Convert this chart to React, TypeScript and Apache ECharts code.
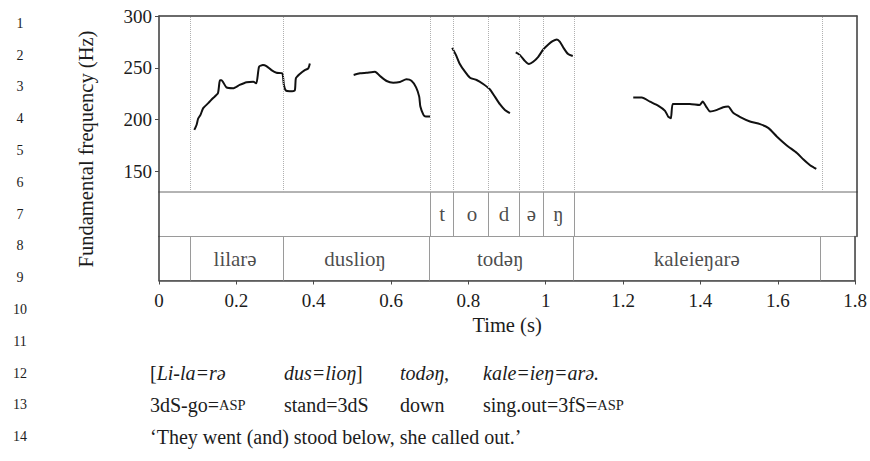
import React, { useEffect, useRef } from 'react';
import * as echarts from 'echarts';

const FONT = 'Liberation Serif, Times New Roman, DejaVu Serif, serif';
const INK = '#1c1c1c';

// Pitch contour segments: [time (s), F0 (Hz)]
const segLilara: [number, number][] = [
  [0.091, 190], [0.097, 195], [0.101, 201], [0.107, 204.5], [0.114, 211], [0.127, 215.8],
  [0.139, 220.6], [0.152, 225.4], [0.157, 238], [0.161, 238], [0.174, 231], [0.191, 230.2],
  [0.208, 233.4], [0.226, 236], [0.243, 236.5], [0.251, 235], [0.258, 251], [0.268, 252.6],
  [0.277, 251.6], [0.29, 247.8], [0.303, 245.2], [0.318, 244.6], [0.322, 233.4], [0.327, 228],
  [0.337, 227.3], [0.35, 228], [0.353, 239.8], [0.363, 244], [0.376, 247.8], [0.385, 249.4], [0.389, 254.2],
];
const segDuslion: [number, number][] = [
  [0.502, 243], [0.518, 244.6], [0.535, 245.2], [0.557, 246.2], [0.57, 242], [0.587, 237.2],
  [0.604, 235.6], [0.621, 236.3], [0.638, 238.8], [0.651, 237.5], [0.663, 231.1], [0.671, 222.1],
  [0.674, 212.5], [0.682, 204.5], [0.688, 202.9], [0.699, 202.9],
];
const segTodan1: [number, number][] = [
  [0.756, 269.2], [0.766, 262.2], [0.775, 254.2], [0.789, 246.2], [0.802, 240.4], [0.819, 238.2],
  [0.836, 234.3], [0.853, 229.2], [0.866, 222.1], [0.879, 214.8], [0.892, 209.3], [0.905, 206.2],
];
const segTodan2: [number, number][] = [
  [0.92, 264.8], [0.931, 262.2], [0.944, 256.4], [0.954, 253.6], [0.965, 255.8], [0.978, 260.6],
  [0.991, 267.7], [1.004, 272.5], [1.015, 275.7], [1.026, 277.3], [1.034, 275], [1.044, 268.7],
  [1.055, 263.2], [1.067, 261.3],
];
const segKaleienara: [number, number][] = [
  [1.223, 221.2], [1.245, 221.2], [1.266, 217.3], [1.288, 213.2], [1.305, 208.4], [1.313, 202.9],
  [1.32, 201.3], [1.325, 215.1], [1.344, 215.1], [1.369, 215.1], [1.394, 214.1], [1.402, 217.3],
  [1.411, 212.5], [1.421, 207.7], [1.439, 209.3], [1.455, 211.9], [1.468, 212.5], [1.48, 206.7],
  [1.499, 202.3], [1.524, 198.1], [1.55, 195.6], [1.572, 191.7], [1.593, 183.7], [1.619, 175],
  [1.645, 167.7], [1.662, 161.3], [1.679, 155.8], [1.688, 153.8], [1.695, 152.3],
];
const pitchSegments = [segLilara, segDuslion, segTodan1, segTodan2, segKaleienara];

// Annotation tiers
const phoneLabels = ['t', 'o', 'd', 'ə', 'ŋ'];
const phoneBounds = [0.697, 0.764, 0.85, 0.929, 0.992, 1.068];
const wordLabels = ['lilarə', 'duslioŋ', 'todəŋ', 'kaleieŋarə'];
const wordBounds = [0.0766, 0.317, 0.697, 1.068, 1.713];

// Axis ticks
const yTickValues = [150, 200, 250, 300];

// Gloss lines
const glossLine1 = ['[{i|Li-la=rə}', '{i|dus=lioŋ}]', '{i|todəŋ,}', '{i|kale=ieŋ=arə.}'];
const glossLine2 = ['3dS-go={sc|ASP}', 'stand=3dS', 'down', 'sing.out=3fS={sc|ASP}'];
const glossLine3 = '‘They went (and) stood below, she called out.’';
const lineNumbers = [1, 2, 3, 4, 5, 6, 7, 8, 9, 10, 11, 12, 13, 14];

const glossCols = [150, 284, 400, 483];

function tierItems(labels: string[], bounds: number[]) {
  return labels.map((name, i) => ({ name, value: [(bounds[i] + bounds[i + 1]) / 2, 0.5] }));
}

export default function App() {
  const ref = useRef<HTMLDivElement>(null);
  useEffect(() => {
    if (!ref.current) return;
    const chart = echarts.init(ref.current, undefined, { renderer: 'svg' });
    const dark = '#4a4a4a';
    const tierGray = '#9a9a9a';
    const gl = 159;
    const gr = 13;
    const grids = [
      { left: gl, right: gr, top: 16, height: 176 },
      { left: gl, right: gr, top: 192, height: 44.5 },
      { left: gl, right: gr, top: 236.5, height: 44 },
    ].map((g) => ({ ...g, show: true, borderColor: tierGray, borderWidth: 1, backgroundColor: 'transparent' }));

    const hiddenX = (idx: number, pos: 'top' | 'bottom', showLine: boolean) => ({
      type: 'value', gridIndex: idx, min: 0, max: 1.8, position: pos,
      axisLine: { show: showLine, onZero: false, lineStyle: { color: dark, width: 1.5 } },
      axisTick: { show: false }, axisLabel: { show: false }, splitLine: { show: false },
    });
    const hiddenY = (idx: number, pos: 'left' | 'right') => ({
      type: 'value', gridIndex: idx, min: 0, max: 1, position: pos,
      axisLine: { show: true, onZero: false, lineStyle: { color: dark, width: 1.5 } },
      axisTick: { show: false }, axisLabel: { show: false }, splitLine: { show: false },
    });

    const allBounds = Array.from(new Set([...wordBounds, ...phoneBounds])).sort((a, b) => a - b);

    const textStyle = { fontFamily: FONT, fontSize: 19, color: INK };
    const tierText = { fontFamily: FONT, fontSize: 21, color: INK };
    const GF = 20;

    const graphics: any[] = [];
    graphics.push({
      type: 'text', x: 86, y: 149, rotation: Math.PI / 2,
      style: { text: 'Fundamental frequency (Hz)', fontFamily: FONT, fontSize: 20.5, fill: INK, align: 'center', verticalAlign: 'middle' },
    });
    lineNumbers.forEach((n, i) => {
      graphics.push({
        type: 'text', x: 20, y: 23.3 + i * 31.8,
        style: { text: String(n), fontFamily: FONT, fontSize: 14, fill: INK, align: 'center', verticalAlign: 'middle' },
      });
    });
    const rich = {
      i: { fontStyle: 'italic', fontSize: GF, fontFamily: FONT, fill: INK },
      sc: { fontSize: 14.5, fontFamily: FONT, fill: INK },
    };
    [glossLine1, glossLine2].forEach((line, li) => {
      line.forEach((t, ci) => {
        graphics.push({
          type: 'text', x: glossCols[ci], y: 373 + li * 32,
          style: { text: t, rich, fontFamily: FONT, fontSize: GF, fill: INK, align: 'left', verticalAlign: 'middle' },
        });
      });
    });
    graphics.push({
      type: 'text', x: glossCols[0], y: 437,
      style: { text: glossLine3, fontFamily: FONT, fontSize: GF, fill: INK, align: 'left', verticalAlign: 'middle' },
    });

    const option: any = {
      animation: false,
      backgroundColor: '#fff',
      textStyle: { fontFamily: FONT },
      grid: grids,
      xAxis: [
        hiddenX(0, 'top', true),
        hiddenX(1, 'bottom', false),
        {
          type: 'value', gridIndex: 2, min: 0, max: 1.8, interval: 0.2, position: 'bottom',
          name: 'Time (s)', nameLocation: 'middle', nameGap: 34,
          nameTextStyle: { fontFamily: FONT, fontSize: 20.5, color: INK },
          axisLine: { show: true, onZero: false, lineStyle: { color: dark, width: 1.5 } },
          axisTick: { show: true, length: 4, lineStyle: { color: dark } },
          axisLabel: { ...textStyle, margin: 10 },
          splitLine: { show: false },
        },
      ],
      yAxis: [
        {
          type: 'value', gridIndex: 0, min: 130, max: 300, position: 'left',
          axisLine: { show: true, onZero: false, lineStyle: { color: dark, width: 1.5 } },
          axisTick: { show: true, length: 4, customValues: yTickValues, lineStyle: { color: dark } },
          axisLabel: { ...textStyle, margin: 7, customValues: yTickValues },
          splitLine: { show: false },
        },
        hiddenY(1, 'left'),
        hiddenY(2, 'left'),
        hiddenY(0, 'right'),
        hiddenY(1, 'right'),
        hiddenY(2, 'right'),
      ],
      series: [
        ...pitchSegments.map((seg, i) => ({
          type: 'line', xAxisIndex: 0, yAxisIndex: 0, data: seg, showSymbol: false, smooth: 0.2,
          lineStyle: { color: '#111', width: 2 }, silent: true,
          ...(i === 0
            ? {
                markLine: {
                  silent: true, symbol: ['none', 'none'], label: { show: false },
                  lineStyle: { color: '#b0b0b0', type: 'dotted', width: 1 },
                  data: allBounds.map((b) => ({ xAxis: b })),
                },
              }
            : {}),
        })),
        {
          type: 'scatter', xAxisIndex: 1, yAxisIndex: 1, data: tierItems(phoneLabels, phoneBounds),
          symbolSize: 1, itemStyle: { color: 'rgba(0,0,0,0)' }, silent: true,
          label: { show: true, position: 'inside', formatter: '{b}', ...tierText },
          markLine: {
            silent: true, symbol: ['none', 'none'], label: { show: false },
            lineStyle: { color: tierGray, type: 'solid', width: 1 },
            data: phoneBounds.map((b) => ({ xAxis: b })),
          },
        },
        {
          type: 'scatter', xAxisIndex: 2, yAxisIndex: 2, data: tierItems(wordLabels, wordBounds),
          symbolSize: 1, itemStyle: { color: 'rgba(0,0,0,0)' }, silent: true,
          label: { show: true, position: 'inside', formatter: '{b}', ...tierText },
          markLine: {
            silent: true, symbol: ['none', 'none'], label: { show: false },
            lineStyle: { color: tierGray, type: 'solid', width: 1 },
            data: wordBounds.map((b) => ({ xAxis: b })),
          },
        },
      ],
      graphic: graphics,
    };
    chart.setOption(option);
    return () => chart.dispose();
  }, []);
  return <div ref={ref} style={{ position: 'fixed', left: 0, top: 0, width: 870, height: 461 }} />;
}
